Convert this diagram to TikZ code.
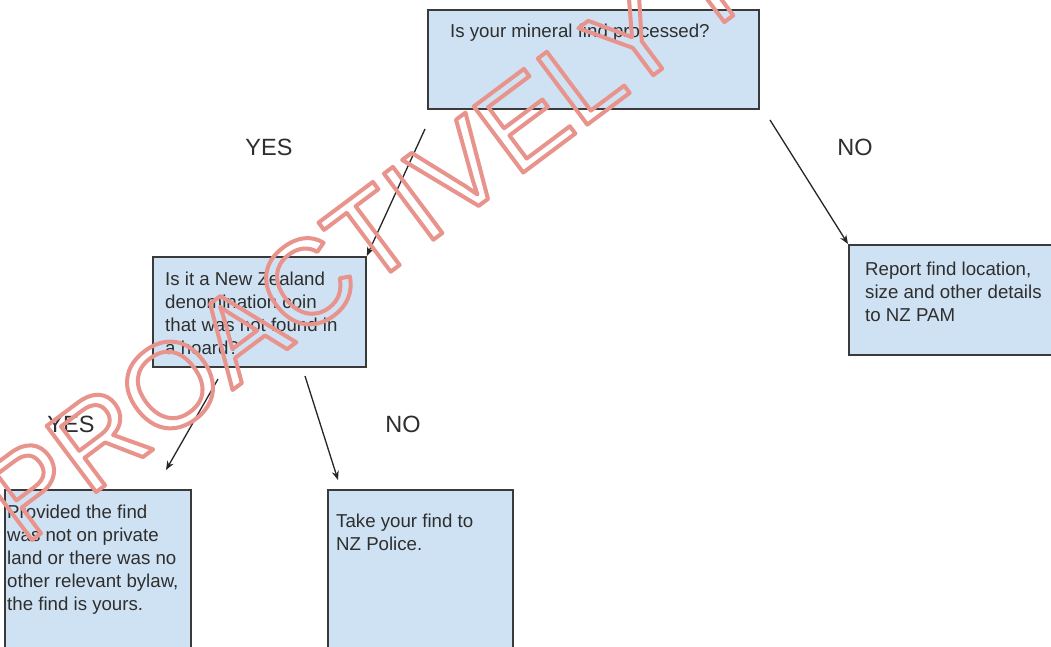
\documentclass[tikz,border=0pt]{standalone}
\usepackage{fontspec}
\setmainfont{Liberation Sans}
\usetikzlibrary{arrows.meta}
\definecolor{boxfill}{HTML}{CFE2F3}
\definecolor{boxline}{HTML}{3A3A3A}
\definecolor{txt}{HTML}{2E2E2E}
\definecolor{wm}{HTML}{E8938C}
\newcommand\tlines[1]{\vtop{\baselineskip=23pt\lineskiplimit=0pt\halign{##\hfil\cr#1\crcr}}}
\tikzset{
  box/.style={draw=boxline, fill=boxfill, line width=1.8pt, inner sep=0pt, anchor=north west},
  boxtext/.style={anchor=base west, inner sep=0pt, text=txt, font=\fontsize{18.67}{23}\selectfont},
  lab/.style={text=txt, inner sep=0pt, font=\fontsize{23.5}{28}\selectfont},
  conn/.style={draw=black!85, line width=1.3pt, -{Stealth[length=9pt,width=7pt]}},
  wmtext/.style={text=wm, inner sep=0pt, anchor=base west, font=\fontsize{120}{120}\selectfont},
}
\begin{document}
\begin{tikzpicture}[x=1pt,y=-1pt]
\useasboundingbox (0,0) rectangle (1051,647);
\clip (0,0) rectangle (1051,647);
\fill[white] (0,0) rectangle (1051,647);
% boxes
\node[box, minimum width=331pt, minimum height=99pt] (a) at (427,9) {};
\node[box, minimum width=213pt, minimum height=110pt] (b) at (152,256) {};
\node[box, minimum width=230pt, minimum height=110pt] (c) at (848,244) {};
\node[box, minimum width=186pt, minimum height=190pt] (d) at (4,489) {};
\node[box, minimum width=185pt, minimum height=190pt] (e) at (327,489) {};
% box texts
\node[boxtext] (ta) at (450,38) {Is your mineral find processed?};
\node[boxtext] (tb) at (165,285) {\tlines{Is it a New Zealand\cr denomination coin\cr that was not found in\cr a hoard?}};
\node[boxtext] (tc) at (865,275) {\tlines{Report find location,\cr size and other details\cr to NZ PAM}};
\node[boxtext] (td) at (7,518) {\tlines{Provided the find\cr was not on private\cr land or there was no\cr other relevant bylaw,\cr the find is yours.}};
\node[boxtext] (te) at (336,527) {\tlines{Take your find to\cr NZ Police.}};
% labels
\node[lab] (y1) at (269,147) {YES};
\node[lab] (n1) at (855,147) {NO};
\node[lab] (y2) at (71,424) {YES};
\node[lab] (n2) at (403,424) {NO};
% connectors
\coordinate (a1) at (425,129);
\coordinate (a2) at (770,120);
\coordinate (b1) at (218,379);
\coordinate (b2) at (305,376);
\coordinate (d1) at (166,470);
\coordinate (e1) at (338,480);
\draw[conn] (a1) -- (b.north east);
\draw[conn] (a2) -- (c.north west);
\draw[conn] (b1) -- (d1);
\draw[conn] (b2) -- (e1);
% watermark
\node[wmtext, rotate=36.8] (wm) at (24,546) {\special{pdf:literal direct 1 Tr 4 w 1 j}PROACTIVELY RELEASED\special{pdf:literal direct 0 Tr}};
\end{tikzpicture}
\end{document}
